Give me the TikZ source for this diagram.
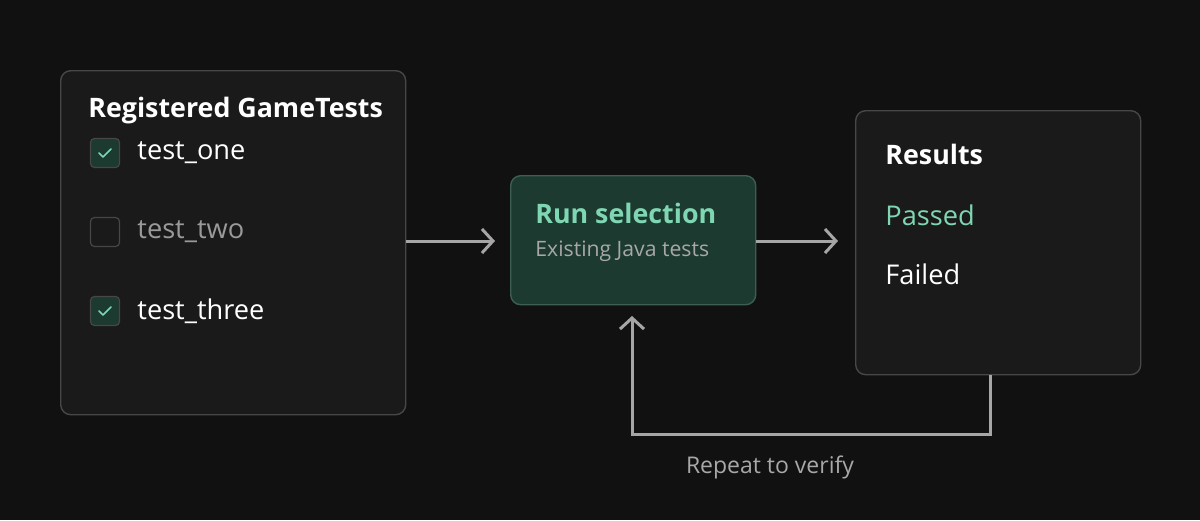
\documentclass[tikz,border=0pt]{standalone}
\usepackage{fontspec}
\setmainfont{Open Sans}
\usetikzlibrary{arrows.meta}
\definecolor{bg}{HTML}{111111}
\definecolor{card}{HTML}{1A1A1A}
\definecolor{cardline}{HTML}{474747}
\definecolor{greenfill}{HTML}{1C3A30}
\definecolor{greenline}{HTML}{3E5E52}
\definecolor{mint}{HTML}{7FD6B2}
\definecolor{greytext}{HTML}{A8A8A8}
\definecolor{dimtext}{HTML}{9A9A9A}
\definecolor{arrowc}{HTML}{A6A6A6}
\begin{document}
\begin{tikzpicture}[x=0.5pt,y=-0.5pt,
  card/.style={draw=cardline,fill=card,rounded corners=5pt,line width=0.7pt},
  chk/.style={draw=cardline,fill=greenfill,rounded corners=2pt,line width=0.6pt,minimum size=14.5pt,inner sep=0},
  unchk/.style={draw=cardline,fill=card,rounded corners=2pt,line width=0.6pt,minimum size=14.5pt,inner sep=0},
  tick/.style={draw=mint,line width=0.8pt,line cap=round,line join=round},
  lbl/.style={anchor=west,inner sep=0,font=\fontsize{13.6}{15}\selectfont},
  conn/.style={draw=arrowc,line width=1.5pt,-{Straight Barb[length=5.5pt,width=12pt,line width=1.5pt]}}]
\fill[bg] (0,0) rectangle (1200,520);
\useasboundingbox (0,0) rectangle (1200,520);
% left card
\node[card,minimum width=172.5pt,minimum height=172pt,anchor=north west] (left) at (60,70) {};
\node[lbl,white,font=\fontsize{13.4}{15}\selectfont\bfseries] (t1) at (88,111) {Registered GameTests};
\node[chk] (c1) at (105,153) {};
\draw[tick] (99,153) -- (103,157) -- (111,149);
\node[lbl,white] (l1) at (137,153) {test\_one};
\node[unchk] (c2) at (105,232) {};
\node[lbl,dimtext] (l2) at (137,232) {test\_two};
\node[chk] (c3) at (105,311) {};
\draw[tick] (99,311) -- (103,315) -- (111,307);
\node[lbl,white] (l3) at (137,311) {test\_three};
% middle
\node[draw=greenline,fill=greenfill,rounded corners=5pt,line width=0.7pt,minimum width=122.5pt,minimum height=64.5pt,anchor=north west] (mid) at (510,175) {};
\node[lbl,mint,font=\fontsize{13.4}{15}\selectfont\bfseries] (m1) at (535,213) {Run selection};
\node[lbl,greytext,font=\fontsize{10.6}{12}\selectfont] (m2) at (535,251) {Existing Java tests};
% right
\node[card,minimum width=142.5pt,minimum height=132pt,anchor=north west] (right) at (855,110) {};
\node[lbl,white,font=\fontsize{13.4}{15}\selectfont\bfseries] (r1) at (885,154) {Results};
\node[lbl,mint] (r2) at (885,215) {Passed};
\node[lbl,white] (r3) at (885,274) {Failed};
% connectors
\coordinate (a1) at (495,241);
\coordinate (a2) at (838,241);
\coordinate (a3) at (632,316);
\coordinate (b1) at (990,434);
\coordinate (b2) at (632,434);
\draw[conn] (left.east |- a1) -- (a1);
\draw[conn] (mid.east |- a2) -- (a2);
\draw[conn] (right.south -| b1) -- (b1) -- (b2) -- (a3);
\node[greytext,font=\fontsize{11.5}{13}\selectfont] (rep) at (770,467) {Repeat to verify};
\end{tikzpicture}
\end{document}
